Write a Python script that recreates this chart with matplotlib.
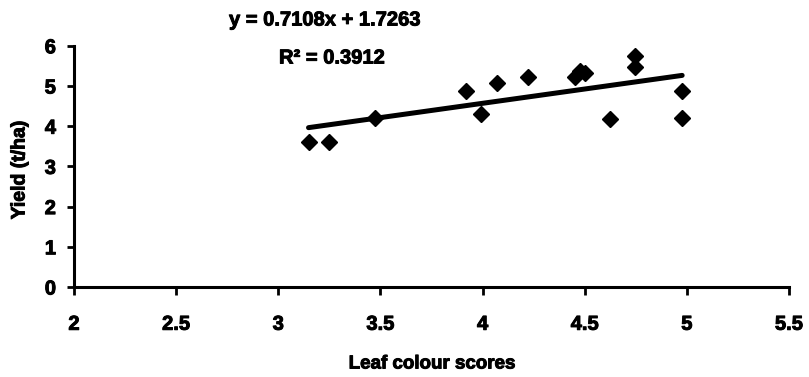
import matplotlib
matplotlib.use("Agg")
import matplotlib.pyplot as plt
import matplotlib.patheffects as pe
import numpy as np

leaf_scores = [3.148, 3.25, 3.475, 3.92, 3.994, 4.072, 4.222, 4.451, 4.475, 4.50, 4.623, 4.745, 4.745, 4.977, 4.977]
yield_tha = [3.61, 3.61, 4.20, 4.88, 4.30, 5.08, 5.23, 5.23, 5.38, 5.33, 4.17, 5.75, 5.48, 4.88, 4.20]
slope = 0.7108
intercept = 1.7263
r_squared = 0.3912
x_ticks = [2, 2.5, 3, 3.5, 4, 4.5, 5, 5.5]
x_ticklabels = ["2", "2.5", "3", "3.5", "4", "4.5", "5", "5.5"]
y_ticks = [0, 1, 2, 3, 4, 5, 6]

plt.rcParams['font.family'] = ['Liberation Sans', 'DejaVu Sans']
plt.rcParams['font.weight'] = 'bold'

heavy = [pe.withStroke(linewidth=0.7, foreground='black')]

fig = plt.figure(figsize=(8.09, 3.77), dpi=100)
ax = fig.add_axes([74 / 809, 1 - 287 / 377, 715 / 809, 241.2 / 377])

ax.plot(leaf_scores, yield_tha, linestyle='none', marker='D', color='black',
        markersize=8.5, zorder=3, clip_on=False)
xl = np.array([min(leaf_scores), max(leaf_scores)])
ax.plot(xl, slope * xl + intercept, color='black', linewidth=3.6, solid_capstyle='round', zorder=2)

ax.set_xlim(2, 5.5)
ax.set_ylim(0, 6)
ax.set_xticks(x_ticks)
ax.set_xticklabels(x_ticklabels)
ax.set_yticks(y_ticks)
for s in ['top', 'right']:
    ax.spines[s].set_visible(False)
for s in ['left', 'bottom']:
    ax.spines[s].set_linewidth(2.2)
    ax.spines[s].set_color('black')
ax.tick_params(axis='x', direction='out', length=6, width=2, pad=14, labelsize=14.5)
ax.tick_params(axis='y', direction='out', length=5, width=2, pad=8, labelsize=14.5)
for lab in ax.get_xticklabels() + ax.get_yticklabels():
    lab.set_fontweight('bold')
    lab.set_path_effects(heavy)

ax.set_xlabel('Leaf colour scores', fontsize=13.5, fontweight='bold', path_effects=heavy)
ax.xaxis.set_label_coords((432 - 74) / 715, (287 - 364) / 241.2)
ax.xaxis.label.set_va('center')
ax.set_ylabel('Yield (t/ha)', fontsize=14, fontweight='bold', path_effects=heavy)
ax.yaxis.set_label_coords((20 - 74) / 715, (287 - 170) / 241.2)
ax.yaxis.label.set_va('center')

fig.text(325 / 809, 1 - 20 / 377, f'y = {slope:.4f}x + {intercept:.4f}', ha='center', va='center',
         fontsize=14.5, fontweight='bold', path_effects=heavy)
fig.text(332 / 809, 1 - 58 / 377, f'R\u00b2 = {r_squared:.4f}', ha='center', va='center',
         fontsize=14.5, fontweight='bold', path_effects=heavy)

fig.savefig('out.png', dpi=100, facecolor='white')
